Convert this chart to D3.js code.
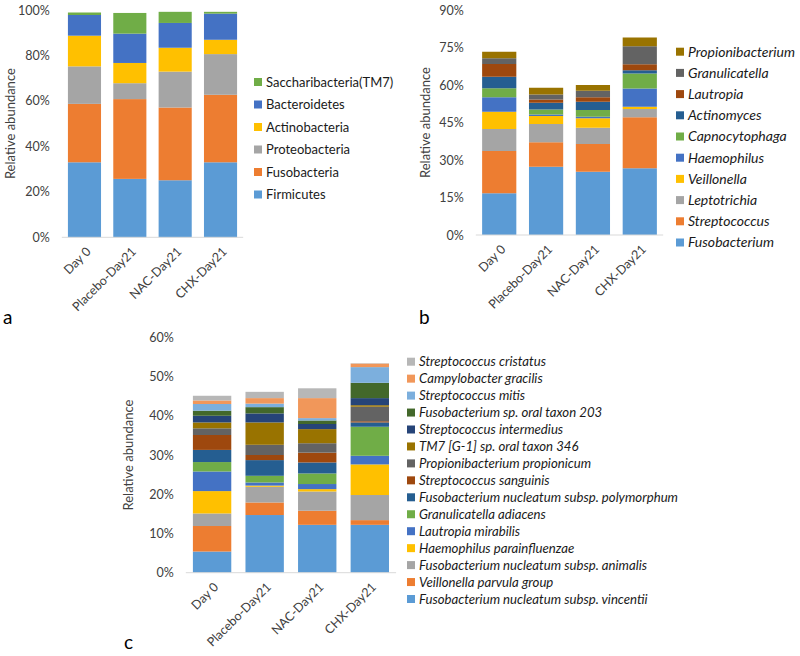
<!DOCTYPE html>
<html>
<head>
<meta charset="utf-8">
<script src="https://cdn.jsdelivr.net/npm/d3@7"></script>
<style>
  body { margin: 0; background: #fff; }
  text { font-family: Lato, "Liberation Sans", sans-serif; }
</style>
</head>
<body>
<div id="chart"></div>
<script>
// groups on the x axis, shared by all three panels
const groups = ["Day 0", "Placebo-Day21", "NAC-Day21", "CHX-Day21"]

// excel palette, in series order (bottom of the stack first)
const palette = ["#5B9BD5", "#ED7D31", "#A5A5A5", "#FFC000", "#4472C4", "#70AD47",
                 "#255E91", "#9E480E", "#636363", "#997300", "#264478", "#43682B",
                 "#7CAFDD", "#F1975A", "#B7B7B7"]

// panel a - phylum (%), one row per series, one value per group
const phylumNames = ["Firmicutes", "Fusobacteria", "Proteobacteria", "Actinobacteria",
                     "Bacteroidetes", "Saccharibacteria(TM7)"]
const phylumValues = [
  [33.0, 25.7, 25.1, 33.0],
  [25.7, 35.1, 32.0, 29.7],
  [16.5, 7.0, 15.8, 17.9],
  [13.5, 8.9, 10.5, 6.3],
  [9.1, 12.9, 10.9, 11.5],
  [1.1, 9.1, 4.9, 0.8]
]
const phylumTicks = [0, 20, 40, 60, 80, 100]

// panel b - genus (%)
const genusNames = ["Fusobacterium", "Streptococcus", "Leptotrichia", "Veillonella",
                    "Haemophilus", "Capnocytophaga", "Actinomyces", "Lautropia",
                    "Granulicatella", "Propionibacterium"]
const genusValues = [
  [16.7, 27.3, 25.3, 26.7],
  [16.9, 9.8, 11.1, 20.4],
  [8.8, 7.3, 6.5, 3.3],
  [6.9, 3.2, 3.8, 0.9],
  [5.8, 0.6, 0.6, 7.3],
  [3.6, 2.0, 2.7, 6.0],
  [4.6, 2.7, 3.3, 1.3],
  [5.1, 1.3, 1.8, 2.4],
  [2.3, 2.0, 2.6, 7.2],
  [2.6, 2.7, 2.3, 3.5]
]
const genusTicks = [0, 15, 30, 45, 60, 75, 90]

// panel c - species (%)
const speciesNames = ["Fusobacterium nucleatum subsp. vincentii", "Veillonella parvula group",
                      "Fusobacterium nucleatum subsp. animalis", "Haemophilus parainfluenzae",
                      "Lautropia mirabilis", "Granulicatella adiacens",
                      "Fusobacterium nucleatum subsp. polymorphum", "Streptococcus sanguinis",
                      "Propionibacterium propionicum", "TM7 [G-1] sp. oral taxon 346",
                      "Streptococcus intermedius", "Fusobacterium sp. oral taxon 203",
                      "Streptococcus mitis", "Campylobacter gracilis", "Streptococcus cristatus"]
const speciesValues = [
  [5.4, 14.7, 12.2, 12.2],
  [6.5, 3.2, 3.6, 1.2],
  [3.2, 4.0, 4.9, 6.4],
  [5.7, 0.3, 0.6, 7.8],
  [5.0, 0.8, 1.3, 2.2],
  [2.4, 1.7, 2.7, 7.4],
  [3.1, 4.0, 2.8, 1.1],
  [3.8, 1.3, 2.5, 0.3],
  [1.7, 2.6, 2.4, 3.7],
  [1.5, 5.7, 3.6, 0.4],
  [1.7, 2.3, 1.3, 1.8],
  [1.3, 1.6, 0.9, 3.9],
  [1.7, 0.9, 0.6, 4.0],
  [0.9, 1.4, 5.1, 0.9],
  [1.2, 1.6, 2.5, 0.1]
]
const speciesTicks = [0, 10, 20, 30, 40, 50, 60]

const svg = d3.select("#chart").append("svg")
    .attr("width", 800)
    .attr("height", 656)

function drawPanel(p) {
    const g = svg.append("g")

    const x = d3.scaleBand()
        .domain(groups)
        .range([p.left, p.right])
        .paddingInner(0.27)
        .paddingOuter(0.135)
    const y = d3.scaleLinear()
        .domain([0, d3.max(p.ticks)])
        .range([p.bottom, p.top])

    // stack rows -> one object per group
    const rows = groups.map((grp, i) => {
        const o = { group: grp }
        p.names.forEach((n, j) => o[n] = p.values[j][i])
        return o
    })
    const stacked = d3.stack().keys(p.names)(rows)

    g.selectAll("g.series")
        .data(stacked).enter()
        .append("g")
        .attr("fill", (d, i) => palette[i])
        .selectAll("rect")
        .data(d => d).enter()
        .append("rect")
        .attr("x", d => x(d.data.group))
        .attr("width", x.bandwidth())
        .attr("y", d => y(d[1]))
        .attr("height", d => y(d[0]) - y(d[1]))

    // baseline
    g.append("line")
        .attr("x1", p.left).attr("x2", p.right)
        .attr("y1", y(0)).attr("y2", y(0))
        .attr("stroke", "#d9d9d9")
        .attr("stroke-width", 1)

    // y axis, labels only
    const yAxis = g.append("g")
        .attr("transform", `translate(${p.left},0)`)
        .call(d3.axisLeft(y).tickValues(p.ticks).tickFormat(d => d + "%").tickSize(0).tickPadding(12))
    yAxis.select(".domain").remove()
    yAxis.selectAll("text")
        .style("font-size", "12.5px")
        .style("font-family", "Lato, sans-serif")
        .attr("fill", "#404040")

    // rotated group labels
    g.selectAll("text.xlab")
        .data(groups).enter()
        .append("text")
        .attr("class", "xlab")
        .attr("transform", d => `translate(${x(d) + x.bandwidth() / 2 + 4},${y(0) + 12}) rotate(-45)`)
        .attr("text-anchor", "end")
        .attr("dy", "0.35em")
        .style("font-size", "12.5px")
        .attr("fill", "#404040")
        .text(d => d)

    // axis title
    g.append("text")
        .attr("transform", `translate(${p.titleX},${(p.top + p.bottom) / 2}) rotate(-90)`)
        .attr("text-anchor", "middle")
        .attr("dy", "0.35em")
        .style("font-size", "13px")
        .attr("fill", "#404040")
        .text("Relative abundance")

    // legend, top of stack first
    const leg = g.append("g")
    const items = p.names.map((n, i) => ({ n: n, c: palette[i] })).reverse()
    const li = leg.selectAll("g")
        .data(items).enter()
        .append("g")
        .attr("transform", (d, i) => `translate(${p.legX},${p.legY + i * p.legStep})`)
    li.append("rect")
        .attr("x", 0).attr("y", -4)
        .attr("width", 8).attr("height", 8)
        .attr("fill", d => d.c)
    li.append("text")
        .attr("x", 12)
        .attr("dy", "0.35em")
        .style("font-size", p.legFont)
        .style("font-style", p.italic ? "italic" : "normal")
        .attr("fill", "#1a1a1a")
        .text(d => d.n)

    // panel letter
    g.append("text")
        .attr("x", p.letterX).attr("y", p.letterY)
        .style("font-size", "19px")
        .attr("fill", "#000")
        .text(p.letter)
}

drawPanel({
    names: phylumNames, values: phylumValues, ticks: phylumTicks,
    left: 61.8, right: 243.2, top: 10, bottom: 237.3,
    titleX: 10, legX: 254, legY: 82, legStep: 22.5, legFont: "13px", italic: false,
    letter: "a", letterX: 3, letterY: 324
})

drawPanel({
    names: genusNames, values: genusValues, ticks: genusTicks,
    left: 475.8, right: 663.2, top: 10, bottom: 235,
    titleX: 425, legX: 676, legY: 51.7, legStep: 21.2, legFont: "14px", italic: true,
    letter: "b", letterX: 419, letterY: 324
})

drawPanel({
    names: speciesNames, values: speciesValues, ticks: speciesTicks,
    left: 185.8, right: 396.1, top: 337.3, bottom: 572.7,
    titleX: 128, legX: 407, legY: 361.7, legStep: 16.95, legFont: "13.2px", italic: true,
    letter: "c", letterX: 124, letterY: 649
})
</script>
</body>
</html>
